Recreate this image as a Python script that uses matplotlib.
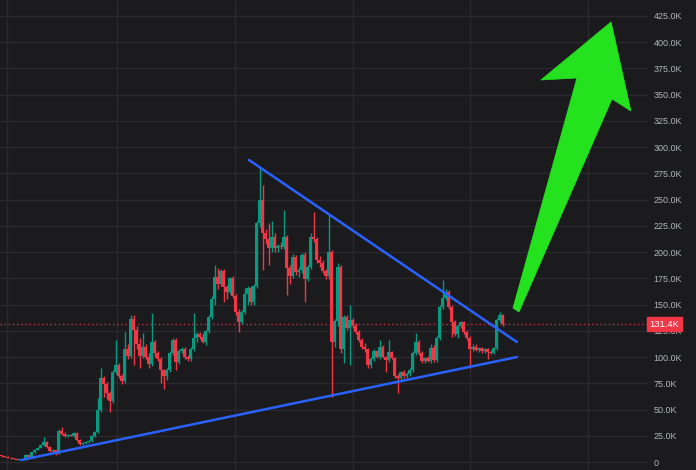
import numpy as np
import matplotlib
matplotlib.use("Agg")
import matplotlib.pyplot as plt
from matplotlib.patches import Polygon

# candle data, values in thousands
opens = [6, 5.5, 5, 4, 3.5, 3, 2, 2.2, 2, 7, 5, 9.5, 11.5, 13.5, 16, 19, 14, 10.5, 11, 8,
         30, 27, 25, 26, 25, 28, 21, 17, 18.5, 19, 20, 25, 29, 50, 80, 74, 66, 58, 86, 92,
         82, 77, 108, 101, 136, 126, 112, 101, 110, 100, 93, 114, 104, 98, 88, 82, 88, 104, 116, 95,
         106, 108, 100, 98, 108, 118, 122, 119, 114, 125, 138, 155, 176, 170, 182, 167, 162, 175, 158, 143,
         133, 143, 160, 166, 152, 168, 228, 250, 218, 212, 204, 214, 204, 206, 205, 214, 185, 177, 195, 181,
         183, 197, 174, 186, 214, 212, 192, 190, 182, 177, 200, 114, 134, 186, 108, 138, 128, 135, 130, 124,
         116, 110, 108, 92, 98, 106, 100, 110, 100, 97, 105, 99, 82, 80, 86, 82, 84, 88, 104, 114,
         104, 96, 99, 96, 109, 97, 118, 148, 156, 162, 148, 133, 122, 130, 133, 124, 118, 108, 110, 107,
         109, 106, 108, 105, 104, 109, 135, 140]
highs = [7, 6, 5.5, 4.5, 4, 3.5, 2.5, 2.5, 8, 8, 10, 12, 14, 17, 24, 20, 15, 12, 11.5, 31,
         33, 29, 27, 27, 29, 29, 22, 19, 20, 21, 26, 30, 61, 90, 82, 76, 68, 88, 116, 94,
         84, 124, 112, 140, 140, 130, 118, 123, 112, 104, 142, 116, 106, 100, 89, 90, 106, 118, 118, 108,
         110, 110, 102, 110, 142, 124, 124, 123, 126, 140, 158, 188, 185, 184, 184, 169, 176, 177, 160, 146,
         145, 166, 168, 168, 170, 230, 280, 264, 222, 228, 230, 218, 208, 210, 240, 216, 188, 198, 197, 186,
         199, 200, 188, 218, 238, 214, 196, 192, 184, 235, 202, 136, 190, 188, 140, 140, 150, 137, 132, 126,
         118, 113, 109, 100, 108, 107, 116, 111, 101, 116, 106, 100, 84, 87, 88, 86, 90, 106, 123, 116,
         106, 100, 101, 112, 111, 120, 150, 173, 165, 164, 150, 135, 131, 134, 134, 126, 120, 112, 112, 110,
         110, 109, 109, 107, 110, 137, 143, 141]
lows = [5, 4.5, 3.5, 3, 2.5, 1.5, 1.5, 1.5, 1.5, 4.5, 4.5, 9, 11, 13, 15, 13, 10, 9, 7, 7.5,
        26, 24, 24, 24.5, 24, 20, 16, 16, 17.5, 18, 19.5, 24, 28, 48, 62, 60, 48, 56, 84, 80,
        74, 75, 98, 99, 92, 108, 90, 99, 98, 90, 91, 100, 96, 75, 70, 78, 86, 102, 88, 93,
        104, 98, 96, 96, 106, 114, 117, 113, 111, 123, 136, 150, 165, 168, 152, 155, 160, 156, 140, 124,
        131, 141, 150, 150, 150, 166, 224, 183, 208, 188, 200, 200, 200, 203, 203, 159, 170, 175, 178, 176,
        180, 152, 172, 184, 210, 190, 186, 180, 174, 174, 62, 110, 130, 104, 94, 126, 92, 128, 122, 114,
        108, 105, 90, 90, 96, 99, 98, 99, 86, 95, 98, 80, 66, 78, 80, 80, 82, 86, 102, 102,
        94, 94, 95, 94, 95, 95, 116, 146, 154, 146, 119, 120, 118, 128, 122, 116, 90, 106, 106, 105,
        104, 104, 98, 103, 103, 107, 133, 130]
closes = [5.5, 5, 4, 3.5, 3, 2, 2.2, 2, 7, 5, 9.5, 11.5, 13.5, 16, 19, 14, 10.5, 11, 8, 30,
          27, 25, 26, 25, 28, 21, 17, 18.5, 19, 20, 25, 29, 50, 80, 74, 66, 58, 86, 92, 82,
          77, 108, 101, 136, 126, 112, 101, 110, 100, 93, 114, 104, 98, 88, 82, 88, 104, 116, 95, 106,
          108, 100, 98, 108, 118, 122, 119, 114, 125, 138, 155, 176, 170, 182, 167, 162, 175, 158, 143, 133,
          143, 160, 166, 152, 168, 228, 250, 218, 212, 204, 214, 204, 206, 205, 214, 185, 177, 195, 181, 183,
          197, 174, 186, 214, 212, 192, 190, 182, 177, 200, 114, 134, 186, 108, 138, 128, 135, 130, 124, 116,
          110, 108, 92, 98, 106, 100, 110, 100, 97, 105, 99, 82, 80, 86, 82, 84, 88, 104, 114, 104,
          96, 99, 96, 109, 97, 118, 148, 156, 162, 148, 133, 122, 130, 133, 124, 118, 108, 110, 107, 109,
          106, 108, 105, 104, 109, 135, 140, 131.4]

last_price = 131.4
y_ticks = [0, 25, 50, 75, 100, 125, 150, 175, 200, 225, 250, 275, 300, 325, 350, 375, 400, 425]
x_grid = [1.8, 38.5, 77.8, 117.2, 156.2, 195.5]

# trendlines (candle index, price)
upper_line = [(82.5, 287.7), (171.8, 114.3)]
lower_line = [(6.5, 1.9), (171.8, 100.0)]
# big arrow outline
arrow_pts = [(170.5, 146.7), (191.8, 365.8), (179.8, 363.9), (203.2, 419.2),
             (209.8, 334.4), (203.5, 345.8), (172.5, 142.9)]

bg = "#1b1b1e"
up_col = "#089981"
dn_col = "#f23645"

fig = plt.figure(figsize=(6.96, 4.70), dpi=100)
fig.patch.set_facecolor(bg)
ax = fig.add_axes([0, 0, 648 / 696, 1])
ax.set_facecolor(bg)

o = np.array(opens)
h = np.array(highs)
l = np.array(lows)
c = np.array(closes)
idx = np.arange(len(o))
cols = [up_col if cc >= oo else dn_col for oo, cc in zip(o, c)]

for g in y_ticks:
    ax.axhline(g, color="#2a2a2e", lw=1, zorder=0)
for g in x_grid:
    ax.axvline(g, color="#2a2a2e", lw=1, zorder=0)

ax.vlines(idx, l, h, colors=cols, lw=1.0, zorder=2)
body = np.maximum(np.abs(c - o), 0.8)
ax.bar(idx, body, bottom=np.minimum(o, c), width=0.8, color=cols, lw=0, zorder=3)

ax.axhline(last_price, color=dn_col, lw=1, ls=(0, (1, 2)), alpha=0.8, zorder=1)

for ln in (upper_line, lower_line):
    xs, ys = zip(*ln)
    ax.plot(xs, ys, color="#2962ff", lw=1.8, solid_capstyle="round", zorder=4)

ax.add_patch(Polygon(arrow_pts, closed=True, fc="#25e21f", ec="#25e21f", lw=0.5, zorder=5))

ax.set_xlim(-0.5, 215.5)
ax.set_ylim(-7.6, 440.1)
ax.yaxis.tick_right()
ax.set_yticks(y_ticks)
ax.set_yticklabels(["0"] + ["%.1fK" % v for v in y_ticks[1:]],
                   fontsize=6.5, color="#b2b5be", family="Liberation Sans")
ax.tick_params(axis="y", length=0, pad=4)
ax.set_xticks([])
for s in ax.spines.values():
    s.set_visible(False)

ax.annotate("%.1fK" % last_price, xy=(1, last_price), xycoords=("axes fraction", "data"),
            xytext=(1.0, 0), textcoords="offset points", va="center", ha="left",
            fontsize=6.8, color="white", family="Liberation Sans", annotation_clip=False,
            bbox=dict(boxstyle="square,pad=0.3", fc=dn_col, ec=dn_col), zorder=10)

fig.savefig("out.png", dpi=100, facecolor=bg)
